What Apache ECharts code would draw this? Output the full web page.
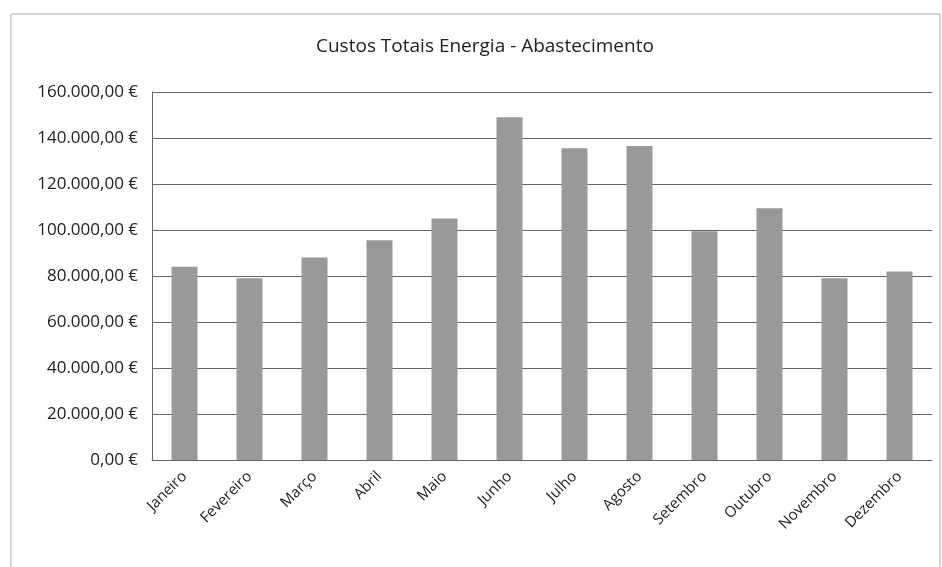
<!DOCTYPE html>
<html>
<head>
<meta charset="utf-8">
<script src="https://cdn.jsdelivr.net/npm/echarts@6/dist/echarts.min.js"></script>
<style>
html, body { margin: 0; padding: 0; background: #fff; }
#main { width: 942px; height: 567px; }
</style>
</head>
<body>
<div id="main"></div>
<script>
var myChart = echarts.init(document.getElementById('main'));

var meses = ['Janeiro', 'Fevereiro', 'Março', 'Abril', 'Maio', 'Junho',
    'Julho', 'Agosto', 'Setembro', 'Outubro', 'Novembro', 'Dezembro'];

var custos = [84000, 79000, 88000, 95500, 105000, 149000,
    135500, 136500, 99500, 109500, 79000, 82000];

function euro(v) {
    var s = Math.round(v).toString().replace(/\B(?=(\d{3})+(?!\d))/g, '.');
    return s + ',00 €';
}

var option = {
    backgroundColor: '#fff',
    textStyle: { fontFamily: 'Open Sans' },
    title: {
        text: 'Custos Totais Energia - Abastecimento',
        left: 311,
        top: 32,
        textStyle: {
            fontFamily: 'Open Sans',
            fontSize: 19,
            fontWeight: 'normal',
            color: '#222'
        }
    },
    graphic: [{
        type: 'rect',
        shape: { x: 11, y: 14, width: 929, height: 560 },
        style: { fill: 'none', stroke: '#aaa', lineWidth: 1 },
        silent: true
    }],
    grid: {
        left: 152,
        right: 10,
        top: 92,
        bottom: 107
    },
    xAxis: {
        type: 'category',
        data: meses,
        axisTick: { show: false },
        axisLine: { lineStyle: { color: '#666' } },
        axisLabel: {
            rotate: 45,
            color: '#222',
            fontSize: 15,
            margin: 14,
            interval: 0
        }
    },
    yAxis: {
        type: 'value',
        min: 0,
        max: 160000,
        interval: 20000,
        axisLine: { show: true, lineStyle: { color: '#666' } },
        axisTick: { show: false },
        splitLine: { lineStyle: { color: '#666' } },
        axisLabel: {
            color: '#222',
            fontSize: 17,
            margin: 14,
            formatter: euro
        }
    },
    series: [{
        name: 'Custos',
        type: 'bar',
        data: custos,
        barWidth: '40%',
        itemStyle: { color: '#999' }
    }]
};
myChart.setOption(option);
</script>
</body>
</html>
